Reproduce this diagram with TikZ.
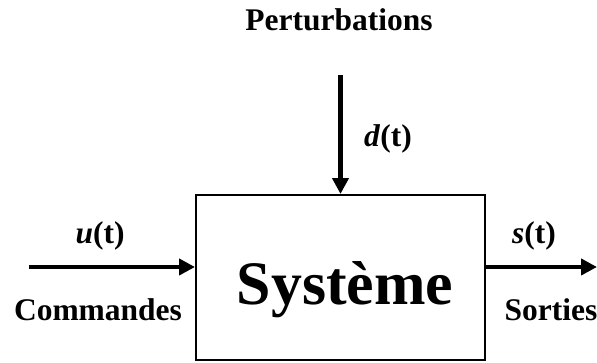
\documentclass[tikz,border=0pt]{standalone}
\usepackage{fontspec}
\setmainfont{Liberation Serif}
\usepackage{tikz}
\usetikzlibrary{arrows.meta,positioning}

\begin{document}
\begin{tikzpicture}[
    flow/.style={
        line width=3.3pt,
        -{Triangle[length=0.4cm,width=0.4cm]}
    },
    lbl/.style={
        anchor=base,
        inner sep=0pt,
        font=\fontsize{22.4}{26}\selectfont\bfseries
    },
    sysbox/.style={
        draw,
        line width=1.4pt,
        minimum width=7.225cm,
        minimum height=4.125cm,
        inner sep=0pt
    }
]
\useasboundingbox (0,0) rectangle (14.925,9.075);

\node[sysbox] (sys) at (8.5125,2.1375) {};
\node[lbl,font=\fontsize{44}{50}\selectfont\bfseries] (systxt) at (8.625,1.45)
{Système};

\coordinate (in) at (0.725,2.4);
\coordinate (out) at (14.925,2.4);
\coordinate (dist) at (8.5125,7.2);

\draw[flow] (in) -- (in -| sys.west);
\draw[flow] (out -| sys.east) -- (out);
\draw[flow] (dist) -- (sys.north);

\node[lbl] (pert) at (8.475,8.3) {Perturbations};
\node[lbl] (dlab) at (9.7,5.4) {\textit{d}(t)};
\node[lbl] (ulab) at (2.5,2.975) {\textit{u}(t)};
\node[lbl] (slab) at (13.35,2.975) {\textit{s}(t)};
\node[lbl] (cmd) at (2.45,1.05) {Commandes};
\node[lbl] (sort) at (13.775,1.05) {Sorties};

\end{tikzpicture}
\end{document}
